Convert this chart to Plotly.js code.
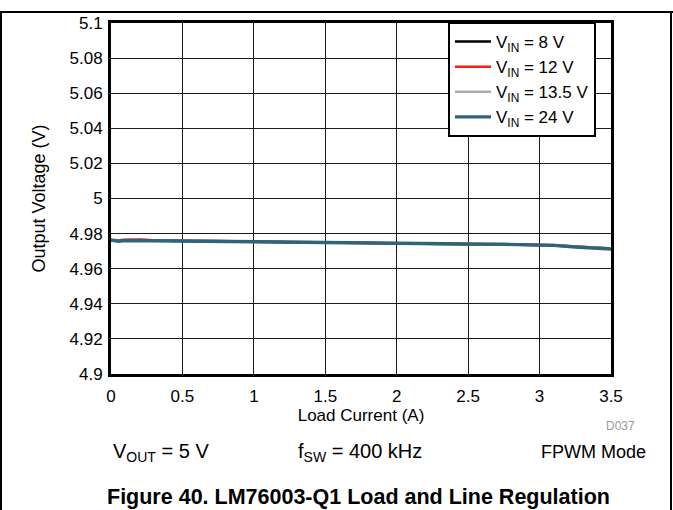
<!DOCTYPE html>
<html>
<head>
<meta charset="utf-8">
<script src="https://cdn.plot.ly/plotly-3.0.1.min.js"></script>
<style>
html,body{margin:0;padding:0;background:#fff;}
#chart{width:673px;height:510px;}
</style>
</head>
<body>
<div id="chart"></div>
<script>
// Data
const loadCurrent = [0, 0.05, 0.1, 0.2, 0.3, 0.5, 0.75, 1.0, 1.25, 1.5, 1.75, 2.0, 2.25, 2.5, 2.75, 3.0, 3.1, 3.25, 3.4, 3.5];
const vin8   = [4.9763, 4.9757, 4.9760, 4.9761, 4.9760, 4.9758, 4.9757, 4.9753, 4.9751, 4.9749, 4.9746, 4.9745, 4.9742, 4.9740, 4.9739, 4.9736, 4.9732, 4.9725, 4.9717, 4.9713];
const vin12  = [4.9764, 4.9762, 4.9765, 4.9766, 4.9762, 4.9760, 4.9759, 4.9756, 4.9754, 4.9750, 4.9748, 4.9746, 4.9744, 4.9744, 4.9741, 4.9739, 4.9735, 4.9727, 4.9719, 4.9715];
const vin135 = [4.9763, 4.9760, 4.9762, 4.9762, 4.9761, 4.9759, 4.9758, 4.9754, 4.9752, 4.9749, 4.9747, 4.9745, 4.9743, 4.9742, 4.9740, 4.9737, 4.9734, 4.9727, 4.9720, 4.9716];
const vin24  = [4.9762, 4.9758, 4.9761, 4.9760, 4.9760, 4.9759, 4.9757, 4.9752, 4.9752, 4.9749, 4.9746, 4.9744, 4.9742, 4.9741, 4.9739, 4.9736, 4.9733, 4.9724, 4.9716, 4.9712];

const seriesNames = ['V<sub>IN</sub> = 8 V', 'V<sub>IN</sub> = 12 V', 'V<sub>IN</sub> = 13.5 V', 'V<sub>IN</sub> = 24 V'];

const xTickVals = [0, 0.5, 1, 1.5, 2, 2.5, 3, 3.5];
const xTickText = ['0', '0.5', '1', '1.5', '2', '2.5', '3', '3.5'];
const yTickVals = [4.9, 4.92, 4.94, 4.96, 4.98, 5, 5.02, 5.04, 5.06, 5.08, 5.1];
const yTickText = ['4.9', '4.92', '4.94', '4.96', '4.98', '5', '5.02', '5.04', '5.06', '5.08', '5.1'];

const FONT = '"Liberation Sans", Arial, Helvetica, sans-serif';

const traces = [
  {x: loadCurrent, y: vin8,   name: seriesNames[0], mode: 'lines', line: {color: '#000000', width: 2.5}},
  {x: loadCurrent, y: vin12,  name: seriesNames[1], mode: 'lines', line: {color: '#ff1a1a', width: 2.5}},
  {x: loadCurrent, y: vin135, name: seriesNames[2], mode: 'lines', line: {color: '#aaaaaa', width: 2.5}},
  {x: loadCurrent, y: vin24,  name: seriesNames[3], mode: 'lines', line: {color: '#2f6479', width: 3.4}}
];

// pixel helpers for paper coordinates (plot area 111..611 x, 23..374 y)
const L = 111, R = 611, T = 23, B = 374;
const px = v => (v - L) / (R - L);
const py = v => (B - v) / (B - T);

const layout = {
  width: 673, height: 510,
  margin: {l: L, r: 673 - R, t: T, b: 510 - B, pad: 0},
  paper_bgcolor: '#ffffff', plot_bgcolor: '#ffffff',
  font: {family: FONT, color: '#000000', size: 16},
  showlegend: true,
  legend: {
    x: px(448), y: py(22), xanchor: 'left', yanchor: 'top',
    bgcolor: '#ffffff', bordercolor: '#000000', borderwidth: 2,
    font: {family: FONT, size: 17, color: '#000'},
    tracegroupgap: 0, itemwidth: 36
  },
  xaxis: {
    range: [0, 3.5], tickmode: 'array', tickvals: xTickVals, ticktext: xTickText,
    showgrid: true, gridcolor: '#1a1a1a', gridwidth: 1,
    showline: true, linecolor: '#000', linewidth: 3, mirror: true,
    zeroline: false, ticks: '', tickfont: {size: 17}, ticklabelstandoff: 5,
    title: {text: 'Load Current (A)', font: {size: 17}, standoff: 2}
  },
  yaxis: {
    range: [4.9, 5.1], tickmode: 'array', tickvals: yTickVals, ticktext: yTickText,
    showgrid: true, gridcolor: '#1a1a1a', gridwidth: 1,
    showline: true, linecolor: '#000', linewidth: 3, mirror: true,
    zeroline: false, ticks: '', tickfont: {size: 17}, ticklabelstandoff: 2,
    title: {text: 'Output Voltage (V)', font: {size: 18}, standoff: 20}
  },
  annotations: [
    {xref: 'paper', yref: 'paper', x: px(111), y: py(452), xanchor: 'left', yanchor: 'middle', showarrow: false,
     text: 'V<sub>OUT</sub> = 5 V', font: {size: 20}},
    {xref: 'paper', yref: 'paper', x: px(360), y: py(452), xanchor: 'center', yanchor: 'middle', showarrow: false,
     text: 'f<sub>SW</sub> = 400 kHz', font: {size: 20}},
    {xref: 'paper', yref: 'paper', x: px(648), y: py(452), xanchor: 'right', yanchor: 'middle', showarrow: false,
     text: 'FPWM Mode', font: {size: 18}},
    {xref: 'paper', yref: 'paper', x: px(637), y: py(426), xanchor: 'right', yanchor: 'middle', showarrow: false,
     text: 'D037', font: {size: 12, color: '#999999'}},
    {xref: 'paper', yref: 'paper', x: px(358), y: py(497), xanchor: 'center', yanchor: 'middle', showarrow: false,
     text: '<b>Figure 40. LM76003-Q1 Load and Line Regulation</b>', font: {size: 21.5}}
  ],
  shapes: [
    {type: 'line', xref: 'paper', yref: 'paper', x0: px(0), x1: px(673), y0: py(12), y1: py(12), line: {color: '#000', width: 2}},
    {type: 'line', xref: 'paper', yref: 'paper', x0: px(1), x1: px(1), y0: py(12), y1: py(510), line: {color: '#000', width: 2}},
    {type: 'line', xref: 'paper', yref: 'paper', x0: px(671), x1: px(671), y0: py(12), y1: py(510), line: {color: '#000', width: 2}}
  ]
};

Plotly.newPlot('chart', traces, layout, {displayModeBar: false, staticPlot: true});
</script>
</body>
</html>
